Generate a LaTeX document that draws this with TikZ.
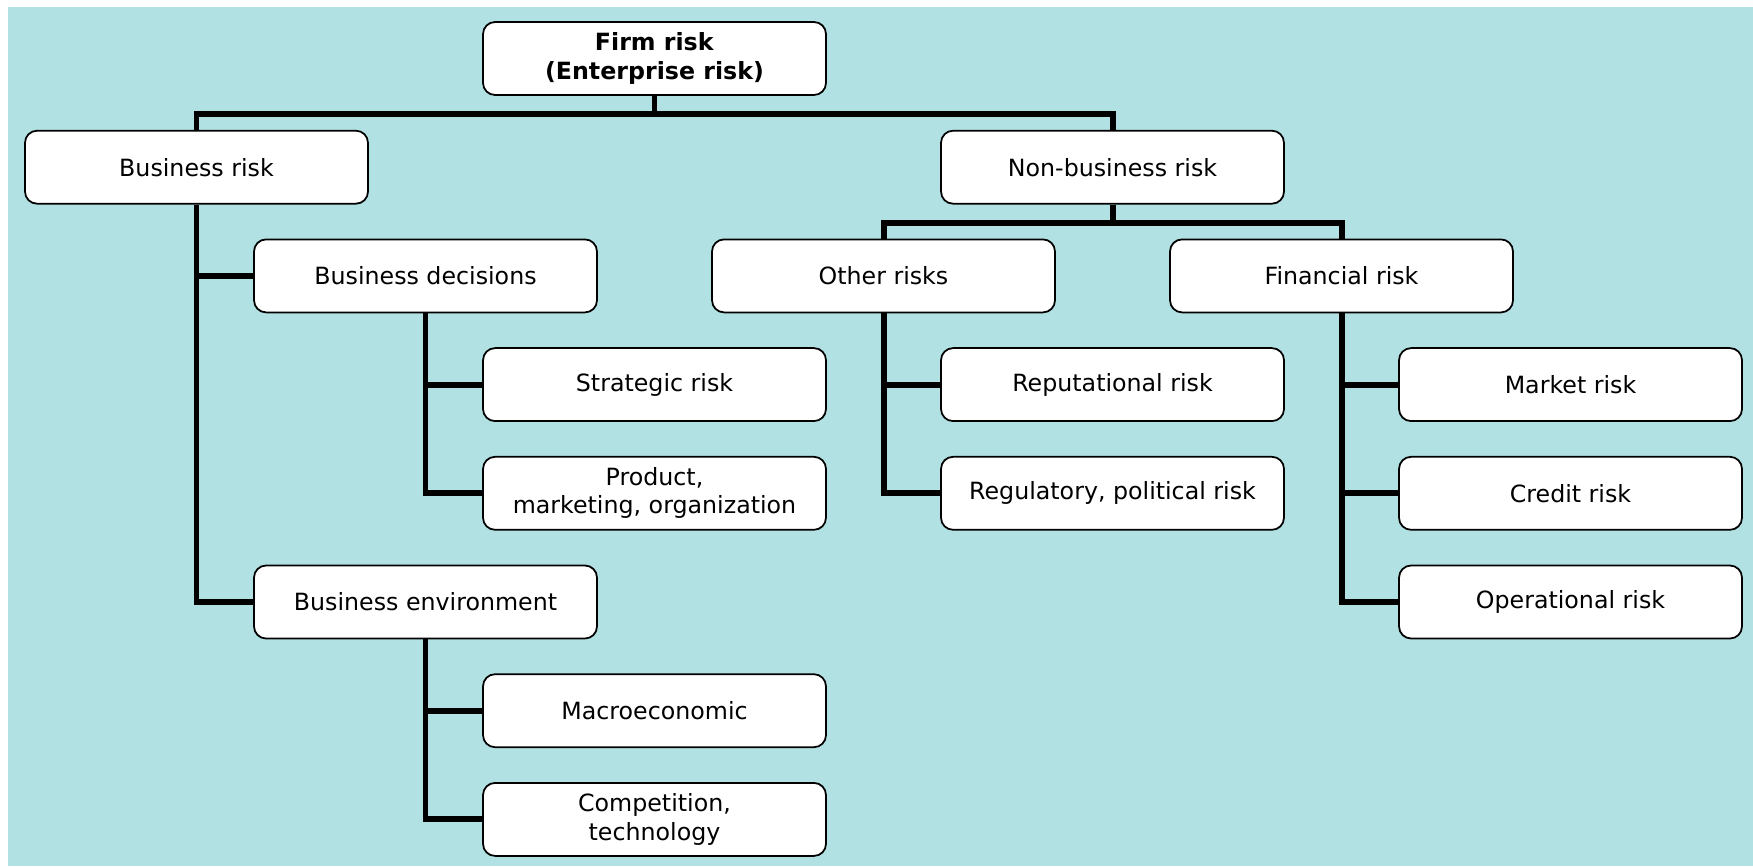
\documentclass[tikz,border=0pt]{standalone}
\usepackage{fontspec}
\setmainfont{DejaVu Sans}
\usetikzlibrary{positioning}
\definecolor{bgcyan}{RGB}{178,225,227}

\tikzset{
  riskbox/.style={draw, fill=white, line width=1pt, rounded corners=0.24cm,
    minimum width=6.86cm, minimum height=1.46cm, inner sep=0pt, align=center,
    font=\fontsize{13.5}{16}\selectfont},
  link/.style={line width=3.4pt}
}

\begin{document}
\begin{tikzpicture}[x=0.02cm, y=-0.02cm]
  \useasboundingbox (0, 0) rectangle (1753, 866);
  \fill[bgcyan] (8, 7) rectangle (1753, 866);

  \node[riskbox] (firm)      at (654.5, 58.5)  {\textbf{Firm risk}\\\textbf{(Enterprise risk)}};

  \node[riskbox] (busrisk)   at (196.5, 167.2) {Business risk};
  \node[riskbox] (nonbus)    at (1112.5, 167.2) {Non-business risk};

  \node[riskbox] (busdec)    at (425.5, 275.9) {Business decisions};
  \node[riskbox] (other)     at (883.5, 275.9) {Other risks};
  \node[riskbox] (financial) at (1341.5, 275.9) {Financial risk};

  \node[riskbox] (strategic) at (654.5, 384.6) {Strategic risk};
  \node[riskbox] (reput)     at (1112.5, 384.6) {Reputational risk};
  \node[riskbox] (market)    at (1570.5, 384.6) {Market risk};

  \node[riskbox] (product)   at (654.5, 493.3) {Product,\\ marketing, organization};
  \node[riskbox] (regul)     at (1112.5, 493.3) {Regulatory, political risk};
  \node[riskbox] (credit)    at (1570.5, 493.3) {Credit risk};

  \node[riskbox] (busenv)    at (425.5, 602)   {Business environment};
  \node[riskbox] (oper)      at (1570.5, 602)  {Operational risk};

  \node[riskbox] (macro)     at (654.5, 710.7) {Macroeconomic};
  \node[riskbox] (compet)    at (654.5, 819.4) {Competition,\\ technology};

  % top level splits
  \draw[link] (firm.south) -- ++(0, 18) coordinate (firmbar);
  \draw[link] (busrisk.north) |- (firmbar) -| (nonbus.north);
  \draw[link] (nonbus.south) -- ++(0, 18) coordinate (nonbar);
  \draw[link] (other.north) |- (nonbar) -| (financial.north);

  % side branches
  \draw[link] (busrisk.south) |- (busenv.west);
  \draw[link] (busrisk.south |- busdec.west) -- (busdec.west);

  \draw[link] (busdec.south) |- (product.west);
  \draw[link] (busdec.south |- strategic.west) -- (strategic.west);

  \draw[link] (busenv.south) |- (compet.west);
  \draw[link] (busenv.south |- macro.west) -- (macro.west);

  \draw[link] (other.south) |- (regul.west);
  \draw[link] (other.south |- reput.west) -- (reput.west);

  \draw[link] (financial.south) |- (oper.west);
  \foreach \leaf in {market, credit} {
    \draw[link] (financial.south |- \leaf.west) -- (\leaf.west);
  }
\end{tikzpicture}
\end{document}
